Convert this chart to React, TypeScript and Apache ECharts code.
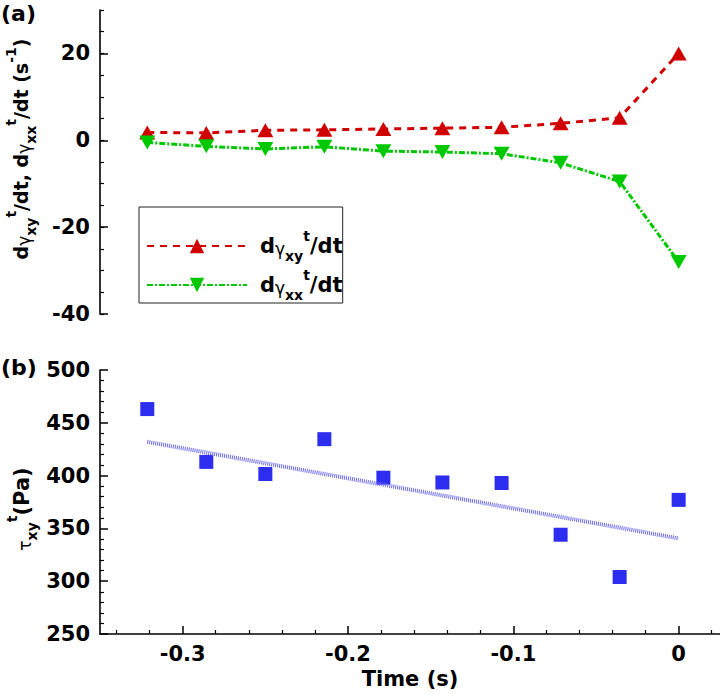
import React, { useEffect, useRef } from "react";
import * as echarts from "echarts";

const times = [-0.3214, -0.2857, -0.25, -0.2143, -0.1786, -0.1429, -0.1071, -0.0714, -0.0357, 0];
const dGammaXY = [1.8, 1.7, 2.3, 2.4, 2.6, 2.8, 3.0, 3.9, 5.2, 20.0];
const dGammaXX = [-0.5, -1.4, -2.0, -1.5, -2.5, -2.7, -3.1, -5.2, -9.5, -28.0];
const tauXY = [463, 413, 401.5, 434.5, 398, 393.5, 393, 344, 304, 377];
const fitTimes = [-0.3214, 0];
const fitTau = [432, 340.5];
const xMajorTicks = [-0.3, -0.2, -0.1, 0];
const xMinorTicks = [-0.34, -0.32, -0.28, -0.26, -0.24, -0.22, -0.18, -0.16, -0.14, -0.12, -0.08, -0.06, -0.04, -0.02, 0.02];
const topYMajorTicks = [-40, -20, 0, 20];

const FONT = "DejaVu Sans";
const RED = "#d00000";
const GREEN = "#00c800";
const BLUE = "#2d2df0";

const richStyles = (main: number) => ({
  m: { fontFamily: FONT, fontWeight: "bold", fontSize: main, color: "#000", lineHeight: 34 },
  m0: { fontFamily: FONT, fontWeight: "bold", fontSize: main, color: "#000", lineHeight: 34, padding: [0, 0, 0, 8] },
  g: { fontFamily: FONT, fontWeight: "normal", fontSize: 17, color: "#000", padding: [6, 0, 0, 0] },
  sb: { fontFamily: FONT, fontWeight: "bold", fontSize: 14, color: "#000", verticalAlign: "bottom", lineHeight: 16 },
  sp: { fontFamily: FONT, fontWeight: "bold", fontSize: 14, color: "#000", verticalAlign: "top", lineHeight: 16 },
});

export default function App() {
  const ref = useRef<HTMLDivElement>(null);
  useEffect(() => {
    if (!ref.current) return;
    const chart = echarts.init(ref.current, null, { renderer: "svg" });
    const labelStyle = { fontFamily: FONT, fontWeight: "bold" as const, fontSize: 21, color: "#000" };
    const axisLine = { show: true, onZero: false, lineStyle: { color: "#000", width: 1.6 } };
    const option: any = {
      animation: false,
      backgroundColor: "#fff",
      grid: [
        { left: 100, top: 10, width: 620, height: 304 },
        { left: 100, top: 370, width: 620, height: 264 },
      ],
      xAxis: [
        { type: "value", gridIndex: 0, min: -0.35, max: 0.025, show: false, axisLine: { onZero: false } },
        {
          type: "value", gridIndex: 1, min: -0.35, max: 0.025, position: "bottom",
          axisLine,
          axisTick: { show: true, inside: true, length: 8, customValues: xMajorTicks, lineStyle: { color: "#000", width: 1.5 } },
          axisLabel: { ...labelStyle, margin: 9, customValues: xMajorTicks },
          splitLine: { show: false },
          name: "Time (s)", nameLocation: "middle", nameGap: 34,
          nameTextStyle: { fontFamily: FONT, fontWeight: "bold", fontSize: 21, color: "#000" },
        },
        {
          type: "value", gridIndex: 1, min: -0.35, max: 0.025, position: "bottom",
          axisLine: { show: false, onZero: false },
          axisTick: { show: true, inside: true, length: 4, customValues: xMinorTicks, lineStyle: { color: "#000", width: 1.2 } },
          axisLabel: { show: false },
          splitLine: { show: false },
        },
      ],
      yAxis: [
        {
          type: "value", gridIndex: 0, min: -40, max: 30, interval: 20, position: "left",
          axisLine,
          axisTick: { show: true, inside: true, length: 8, customValues: topYMajorTicks, lineStyle: { color: "#000", width: 1.5 } },
          axisLabel: { ...labelStyle, margin: 10, customValues: topYMajorTicks },
          splitLine: { show: false },
        },
        {
          type: "value", gridIndex: 0, min: -40, max: 30, interval: 5, position: "left",
          axisLine: { show: false, onZero: false },
          axisTick: { show: true, inside: true, length: 4, lineStyle: { color: "#000", width: 1.2 } },
          axisLabel: { show: false },
          splitLine: { show: false },
        },
        {
          type: "value", gridIndex: 1, min: 250, max: 500, interval: 50, position: "left",
          axisLine,
          axisTick: { show: true, inside: true, length: 8, lineStyle: { color: "#000", width: 1.5 } },
          minorTick: { show: true, splitNumber: 5, length: 4, lineStyle: { color: "#000", width: 1.2 } },
          axisLabel: { ...labelStyle, margin: 10 },
          splitLine: { show: false },
        },
      ],
      legend: {
        orient: "vertical", left: 139, top: 207,
        padding: [22, 0, 1, 7],
        itemWidth: 100, itemHeight: 18, itemGap: 5,
        borderColor: "#222", borderWidth: 1,
        data: ["gxy", "gxx"],
        formatter: (name: string) =>
          name === "gxy"
            ? "{m0|d}{g|γ}{sb|xy}{sp|t}{m|/dt}"
            : "{m0|d}{g|γ}{sb|xx}{sp|t}{m|/dt}",
        textStyle: { rich: richStyles(21) },
      },
      series: [
        {
          type: "line", name: "gxy", xAxisIndex: 0, yAxisIndex: 0,
          data: times.map((t, i) => [t, dGammaXY[i]]),
          symbol: "triangle", symbolSize: [16, 14],
          itemStyle: { color: RED },
          lineStyle: { color: RED, width: 3, type: [7, 6] },
        },
        {
          type: "line", name: "gxx", xAxisIndex: 0, yAxisIndex: 0,
          data: times.map((t, i) => [t, dGammaXX[i]]),
          symbol: "triangle", symbolSize: [16, 14], symbolRotate: 180,
          itemStyle: { color: GREEN },
          lineStyle: { color: GREEN, width: 3, type: [6, 2, 2, 2] },
        },
        {
          type: "scatter", name: "tau", xAxisIndex: 1, yAxisIndex: 2,
          data: times.map((t, i) => [t, tauXY[i]]),
          symbol: "rect", symbolSize: 14,
          itemStyle: { color: BLUE, opacity: 1 },
        },
        {
          type: "line", name: "fit", xAxisIndex: 1, yAxisIndex: 2,
          data: fitTimes.map((t, i) => [t, fitTau[i]]),
          symbol: "none",
          lineStyle: { color: "#6a6aec", width: 4, type: [1, 1] },
        },
      ],
      graphic: [
        { type: "text", left: 1, top: 2, style: { text: "(a)", font: `bold 22px "${FONT}"`, fill: "#000" } },
        { type: "text", left: 1, top: 356, style: { text: "(b)", font: `bold 22px "${FONT}"`, fill: "#000" } },
        {
          type: "text", x: 21, y: 149, rotation: Math.PI / 2,
          style: {
            text: "{m|d}{g|γ}{sb|xy}{sp|t}{m|/dt, d}{g|γ}{sb|xx}{sp|t}{m|/dt (s}{sp|-1}{m|)}",
            rich: richStyles(19), align: "center", verticalAlign: "middle",
          },
        },
        {
          type: "text", x: 22, y: 509, rotation: Math.PI / 2,
          style: {
            text: "{g|τ}{sb|xy}{sp|t}{m|(Pa)}",
            rich: richStyles(21), align: "center", verticalAlign: "middle",
          },
        },
      ],
    };
    chart.setOption(option);
    return () => chart.dispose();
  }, []);
  return <div ref={ref} style={{ position: "fixed", left: 0, top: 0, width: 720, height: 694 }} />;
}
